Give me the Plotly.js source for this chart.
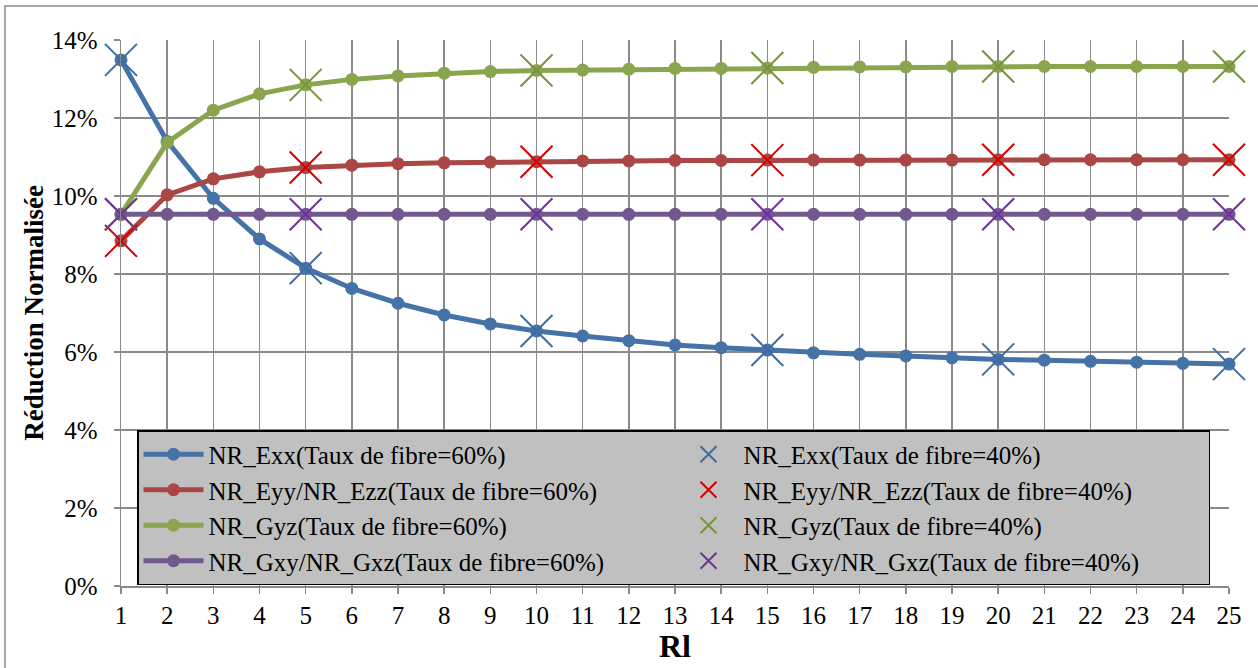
<!DOCTYPE html>
<html>
<head>
<meta charset="utf-8">
<script src="https://cdn.plot.ly/plotly-3.0.1.min.js"></script>
<style>
html,body{margin:0;padding:0;background:#fff;}
#chart{width:1258px;height:668px;}
</style>
</head>
<body>
<div id="chart"></div>
<script>
// Data (values in %)
const rl = [1,2,3,4,5,6,7,8,9,10,11,12,13,14,15,16,17,18,19,20,21,22,23,24,25];
const exx60 = [13.49,11.40,9.94,8.90,8.15,7.63,7.25,6.95,6.72,6.54,6.41,6.29,6.18,6.11,6.05,5.98,5.94,5.90,5.85,5.81,5.79,5.76,5.74,5.71,5.69];
const eyy60 = [8.85,10.03,10.44,10.62,10.73,10.79,10.83,10.85,10.87,10.88,10.90,10.90,10.91,10.91,10.92,10.92,10.92,10.92,10.92,10.93,10.93,10.93,10.93,10.93,10.93];
const gyz60 = [9.53,11.37,12.20,12.62,12.85,12.99,13.08,13.15,13.19,13.22,13.23,13.25,13.27,13.27,13.28,13.30,13.31,13.31,13.32,13.32,13.32,13.32,13.32,13.32,13.32];
const gxy60 = [9.53,9.53,9.53,9.53,9.53,9.53,9.53,9.53,9.53,9.53,9.53,9.53,9.53,9.53,9.53,9.53,9.53,9.53,9.53,9.53,9.53,9.53,9.53,9.53,9.53];

const rl40 = [1,5,10,15,20,25];
const exx40 = [13.49,8.15,6.54,6.05,5.81,5.69];
const eyy40 = [8.85,10.73,10.88,10.92,10.93,10.93];
const gyz40 = [9.53,12.85,13.22,13.28,13.32,13.32];
const gxy40 = [9.53,9.53,9.53,9.53,9.53,9.53];

const names60 = ['NR_Exx(Taux de fibre=60%)','NR_Eyy/NR_Ezz(Taux de fibre=60%)','NR_Gyz(Taux de fibre=60%)','NR_Gxy/NR_Gxz(Taux de fibre=60%)'];
const names40 = ['NR_Exx(Taux de fibre=40%)','NR_Eyy/NR_Ezz(Taux de fibre=40%)','NR_Gyz(Taux de fibre=40%)','NR_Gxy/NR_Gxz(Taux de fibre=40%)'];

const lineColors = ['#4572A7','#AA4643','#89A54E','#71588F'];
const xColors = ['#3D6CA3','#D40000','#77933C','#7030A0'];

const s60 = [exx60, eyy60, gyz60, gxy60];
const s40 = [exx40, eyy40, gyz40, gxy40];

const traces = [];
for (let i = 0; i < 4; i++) {
  traces.push({
    x: rl, y: s60[i], name: names60[i], type: 'scatter', mode: 'lines+markers',
    line: {color: lineColors[i], width: 5},
    marker: {color: lineColors[i], size: 13, symbol: 'circle'},
    cliponaxis: false, legendrank: 2*i+1
  });
}
for (let i = 0; i < 4; i++) {
  traces.push({
    x: rl40, y: s40[i], name: names40[i], type: 'scatter', mode: 'markers',
    marker: {symbol: 'x-thin', size: 32, color: xColors[i], line: {color: xColors[i], width: 2}},
    cliponaxis: false, legendrank: 2*i+2
  });
}

const fontFam = '"Liberation Serif", "Times New Roman", serif';
const L = 121, R = 29, T = 40, B = 82;
const PW = 1258 - L - R, PH = 668 - T - B;

const layout = {
  width: 1258, height: 668,
  margin: {l: L, r: R, t: T, b: B, autoexpand: false},
  paper_bgcolor: '#ffffff', plot_bgcolor: '#ffffff',
  font: {family: fontFam, size: 25, color: '#000'},
  showlegend: true,
  legend: {
    orientation: 'h', traceorder: 'normal',
    x: (137 - L) / PW, xanchor: 'left',
    y: (586 - 430) / PH, yanchor: 'top',
    bgcolor: '#C0C0C0', bordercolor: '#000', borderwidth: 1.5,
    entrywidth: 460, font: {family: fontFam, size: 25, color: '#000'},
    itemwidth: 60
  },
  xaxis: {
    range: [1, 25], tickmode: 'linear', tick0: 1, dtick: 1,
    showgrid: true, gridcolor: '#8a8a8a', gridwidth: 1.5,
    showline: true, linecolor: '#8a8a8a', linewidth: 1.5,
    ticks: 'outside', ticklen: 6, tickcolor: '#8a8a8a', tickwidth: 1.5,
    ticklabelstandoff: 0,
    zeroline: false,
    tickfont: {family: fontFam, size: 25, color: '#000'},
    title: {text: '<b>Rl</b>', font: {family: fontFam, size: 32, color: '#000'}, standoff: 4}
  },
  yaxis: {
    range: [0, 14], tickmode: 'linear', tick0: 0, dtick: 2, ticksuffix: '%',
    showgrid: true, gridcolor: '#8a8a8a', gridwidth: 1.5,
    showline: true, linecolor: '#8a8a8a', linewidth: 1.5,
    ticks: 'outside', ticklen: 6, tickcolor: '#8a8a8a', tickwidth: 1.5,
    ticklabelstandoff: 11,
    zeroline: false,
    tickfont: {family: fontFam, size: 25, color: '#000'},
    title: {text: '<b>Réduction Normalisée</b>', font: {family: fontFam, size: 27, color: '#000'}, standoff: 0}
  },
  shapes: [{
    type: 'rect', xref: 'paper', yref: 'paper', layer: 'below',
    x0: (5 - L) / PW, x1: (1300 - L) / PW,
    y0: -(B + 20) / PH, y1: (586 - 6) / PH,
    line: {color: '#8a8a8a', width: 1.5}, fillcolor: 'rgba(0,0,0,0)'
  }]
};

Plotly.newPlot('chart', traces, layout, {displayModeBar: false, staticPlot: true});
</script>
</body>
</html>
